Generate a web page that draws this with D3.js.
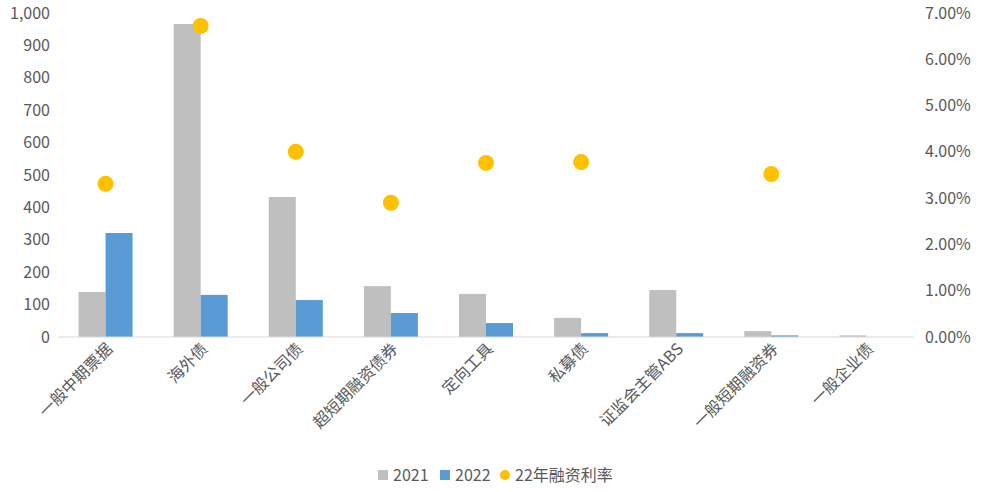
<!DOCTYPE html>
<html><head><meta charset="utf-8">
<script src="https://cdn.jsdelivr.net/npm/d3@7"></script>
<style>body{margin:0;background:#fff}text{font-family:"Noto Sans CJK SC","Noto Sans",sans-serif;fill:#595959}</style>
</head><body><div id="chart"></div>
<script>
const categories = ['一般中期票据','海外债','一般公司债','超短期融资债券','定向工具','私募债','证监会主管ABS','一般短期融资券','一般企业债'];
const v2021 = [139, 966, 432, 157, 133, 59, 145, 18, 5];
const v2022 = [321, 130, 114, 74, 43, 12, 12, 5, 0];
const rate22 = [3.31, 6.72, 4.0, 2.9, 3.76, 3.78, null, 3.52, null];
const leftTicks = d3.range(0, 1001, 100);
const rightTicks = d3.range(0, 7.01, 1);

const width = 1006, height = 492;
const svg = d3.select('#chart').append('svg').attr('width', width).attr('height', height);

const x = d3.scaleBand().domain(categories).range([58, 914]);
const y = d3.scaleLinear().domain([0, 1000]).range([337, 13]);
const y2 = d3.scaleLinear().domain([0, 7]).range([337, 13]);
const bw = 27;

// bars
categories.forEach((c, i) => {
  const cx = x(c) + x.bandwidth() / 2;
  svg.append('rect').attr('x', cx - bw).attr('y', y(v2021[i]))
    .attr('width', bw).attr('height', y(0) - y(v2021[i])).attr('fill', '#bfbfbf');
  svg.append('rect').attr('x', cx).attr('y', y(v2022[i]))
    .attr('width', bw).attr('height', y(0) - y(v2022[i])).attr('fill', '#5b9bd5');
});

svg.selectAll('.dot').data(categories.map((c, i) => [c, rate22[i]]).filter(d => d[1] != null))
  .enter().append('circle')
  .attr('cx', d => x(d[0]) + x.bandwidth() / 2).attr('cy', d => y2(d[1]))
  .attr('r', 8).attr('fill', '#ffc000');

// axes
svg.append('line').attr('x1', 58).attr('x2', 914).attr('y1', 337).attr('y2', 337).attr('stroke', '#d9d9d9');
svg.selectAll('.lt').data(leftTicks).enter().append('text')
  .attr('x', 50).attr('y', d => y(d)).attr('dy', '0.35em').attr('text-anchor', 'end')
  .attr('font-size', 16).text(d => d3.format(',')(d));
svg.selectAll('.rt').data(rightTicks).enter().append('text')
  .attr('x', 925).attr('y', d => y2(d)).attr('dy', '0.35em').attr('text-anchor', 'start')
  .attr('font-size', 16).text(d => d.toFixed(2) + '%');
svg.selectAll('.cl').data(categories).enter().append('text')
  .attr('transform', d => `translate(${x(d) + x.bandwidth() / 2 + 8},${350}) rotate(-45)`)
  .attr('text-anchor', 'end').attr('font-size', 16).text(d => d);

// legend
const legend = [['2021', '#bfbfbf', 'rect'], ['2022', '#5b9bd5', 'rect'], ['22年融资利率', '#ffc000', 'circle']];
const lx = [378, 440, 500];
legend.forEach((l, i) => {
  if (l[2] === 'rect') svg.append('rect').attr('x', lx[i]).attr('y', 470).attr('width', 10).attr('height', 10).attr('fill', l[1]);
  else svg.append('circle').attr('cx', lx[i] + 5).attr('cy', 475).attr('r', 5).attr('fill', l[1]);
  svg.append('text').attr('x', lx[i] + 15).attr('y', 475).attr('dy', '0.35em').attr('font-size', 16).text(l[0]);
});
</script></body></html>
